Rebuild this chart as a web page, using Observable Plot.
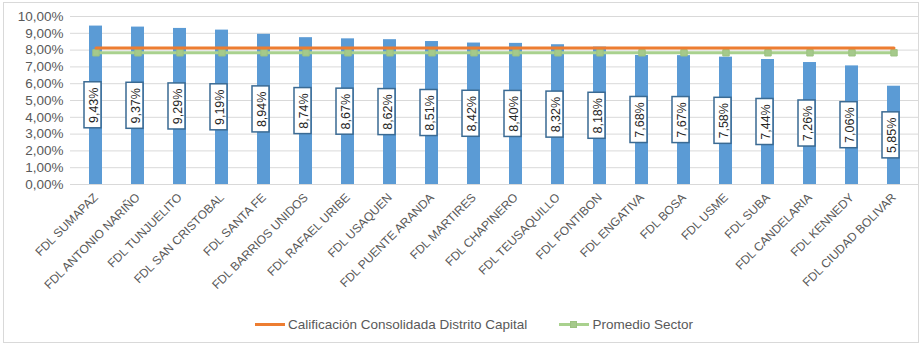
<!DOCTYPE html>
<html><head><meta charset="utf-8">
<script src="https://cdn.jsdelivr.net/npm/d3@7"></script>
<script src="https://cdn.jsdelivr.net/npm/@observablehq/plot@0.6"></script>
<style>
body{margin:0;background:#fff;font-family:Arial,"Liberation Sans",sans-serif;}
#wrap{position:relative;width:922px;height:347px;overflow:hidden;}
#frame{position:absolute;left:3px;top:2px;width:916px;height:341px;border:1px solid #d9d9d9;box-sizing:border-box;pointer-events:none;}
#chart{position:absolute;left:0;top:0;}
#legend{position:absolute;top:317px;left:255px;display:flex;align-items:center;font-size:13.5px;color:#595959;white-space:nowrap;}
.item{display:flex;align-items:center;margin-right:32px;}
.sw{position:relative;width:30px;height:3px;margin-right:3px;}
.mk{position:absolute;left:11px;top:-2.5px;width:7px;height:7px;}
</style>
</head><body>
<div id="wrap"><div id="chart"></div><div id="frame"></div><div id="legend"></div></div>
<script>
const categories = ["FDL SUMAPAZ","FDL ANTONIO NARIÑO","FDL TUNJUELITO","FDL SAN CRISTOBAL","FDL SANTA FE","FDL BARRIOS UNIDOS","FDL RAFAEL URIBE","FDL USAQUEN","FDL PUENTE ARANDA","FDL MARTIRES","FDL CHAPINERO","FDL TEUSAQUILLO","FDL FONTIBON","FDL ENGATIVA","FDL BOSA","FDL USME","FDL SUBA","FDL CANDELARIA","FDL KENNEDY","FDL CIUDAD BOLIVAR"];
const values = [9.43,9.37,9.29,9.19,8.94,8.74,8.67,8.62,8.51,8.42,8.40,8.32,8.18,7.68,7.67,7.58,7.44,7.26,7.06,5.85];
const distritoCapital = 8.13;
const promedioSector = 7.84;
const yTicks = [0,1,2,3,4,5,6,7,8,9,10];
const seriesNames = ["Calificación Consolidada Distrito Capital","Promedio Sector"];

const fmt = v => v.toFixed(2).replace(".", ",") + "%";
const rows = categories.map((c,i)=>({cat:c, val:values[i], dist:distritoCapital, prom:promedioSector}));
const BOXH = 1.37;

const plot = Plot.plot({
  width: 922, height: 312,
  marginTop: 16, marginBottom: 128, marginLeft: 70, marginRight: 3,
  style:{fontFamily:'Arial,"Liberation Sans",sans-serif', color:"#595959", background:"transparent"},
  x:{domain:categories, paddingInner:0.69, paddingOuter:0.35, label:null},
  y:{domain:[0,10], label:null},
  marks:[
    Plot.ruleY(yTicks, {stroke:"#d9d9d9", strokeWidth:1}),
    Plot.axisY({ticks:yTicks, tickFormat:fmt, tickSize:0, tickPadding:7, fontSize:13.5, fill:"#595959", label:null}),
    Plot.axisX({tickSize:0, tickRotate:-45, fontSize:12, fill:"#595959", tickPadding:11, label:null}),
    Plot.barY(rows, {x:"cat", y:"val", fill:"#5b9bd5"}),
    Plot.lineY(rows, {x:"cat", y:"prom", stroke:"#a9d18e", strokeWidth:3}),
    Plot.dot(rows, {x:"cat", y:"prom", symbol:"square", r:3.6, fill:"#a5c98b", stroke:"#9cc281", strokeWidth:1}),
    Plot.lineY(rows, {x:"cat", y:"dist", stroke:"#ed7d31", strokeWidth:3}),
    Plot.barY(rows, {x:"cat", y1:d=>d.val/2-BOXH, y2:d=>d.val/2+BOXH, fill:"white", stroke:"#3a6a93", strokeWidth:1.5, insetLeft:-5, insetRight:1}),
    Plot.text(rows, {x:"cat", y:d=>d.val/2, text:d=>fmt(d.val), rotate:-90, dx:-2, fontSize:12.5, fill:"#262626"})
  ]
});
document.getElementById("chart").appendChild(plot);

const legend = document.getElementById("legend");
legend.innerHTML = `
<div class="item"><div class="sw" style="background:#ed7d31"></div><span>${seriesNames[0]}</span></div>
<div class="item"><div class="sw" style="background:#a9d18e"><div class="mk" style="background:#a5c98b;border:1px solid #9cc281;box-sizing:border-box"></div></div><span>${seriesNames[1]}</span></div>`;
</script>
</body></html>
